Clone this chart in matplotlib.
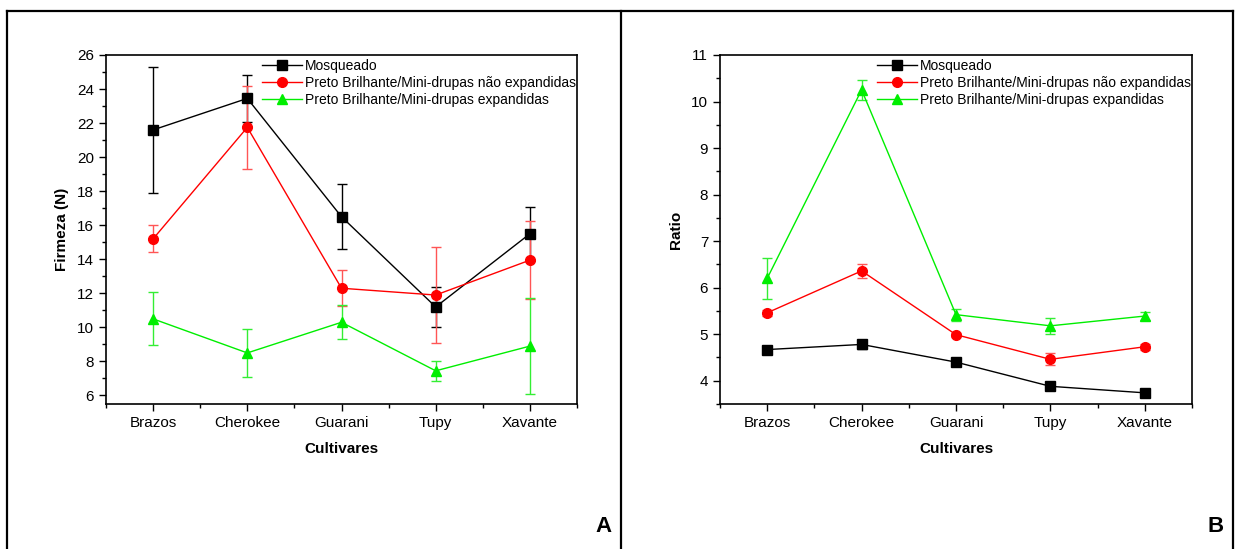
import matplotlib
matplotlib.use('Agg')
import matplotlib.pyplot as plt
from matplotlib.ticker import MultipleLocator
from matplotlib.lines import Line2D

plt.rcParams['font.family'] = ['Liberation Sans', 'DejaVu Sans']

# Data
cultivares = ['Brazos', 'Cherokee', 'Guarani', 'Tupy', 'Xavante']
series_names = ['Mosqueado',
                'Preto Brilhante/Mini-drupas não expandidas',
                'Preto Brilhante/Mini-drupas expandidas']

firmeza_mosq = [21.6, 23.45, 16.5, 11.2, 15.5]
firmeza_mosq_err = [3.7, 1.4, 1.9, 1.2, 1.6]
firmeza_nexp = [15.2, 21.75, 12.3, 11.9, 13.95]
firmeza_nexp_err = [0.8, 2.45, 1.05, 2.8, 2.3]
firmeza_exp = [10.5, 8.5, 10.3, 7.45, 8.9]
firmeza_exp_err = [1.55, 1.4, 1.0, 0.6, 2.8]

ratio_mosq = [4.67, 4.78, 4.40, 3.88, 3.74]
ratio_mosq_err = [0.05, 0.10, 0.03, 0.02, 0.02]
ratio_nexp = [5.46, 6.36, 4.99, 4.46, 4.73]
ratio_nexp_err = [0.06, 0.15, 0.04, 0.13, 0.07]
ratio_exp = [6.20, 10.25, 5.42, 5.18, 5.39]
ratio_exp_err = [0.44, 0.21, 0.13, 0.17, 0.08]

colors = ['black', 'red', '#00ee00']
err_colors = ['black', '#ff5555', '#33ee33']
markers = ['s', 'o', '^']
msizes = [6.5, 7, 7]

fig = plt.figure(figsize=(12.37, 5.49), dpi=100)

# outer frame lines (figure coords)
W, H = 1237.0, 549.0
def vline(x):
    fig.add_artist(Line2D([x / W, x / W], [0, 1 - 11 / H], color='black', lw=1.6,
                          transform=fig.transFigure))
fig.add_artist(Line2D([7 / W, 1233 / W], [1 - 11 / H, 1 - 11 / H], color='black', lw=1.6,
                      transform=fig.transFigure))
for xx in [7, 621, 1233]:
    vline(xx)


def panel(rect, data, errs, ylim, ymaj, ylabel, letter, letter_x):
    ax = fig.add_axes(rect)
    x = range(len(cultivares))
    handles = []
    for i in range(3):
        ax.errorbar(x, data[i], yerr=errs[i], color=colors[i], ecolor=err_colors[i],
                    marker=markers[i], markersize=msizes[i], lw=1.0, elinewidth=1.0,
                    capsize=3.5, capthick=1.0)
        handles.append(Line2D([], [], color=colors[i], marker=markers[i],
                              markersize=msizes[i], lw=1.0, label=series_names[i]))
    ax.set_xlim(-0.5, 4.5)
    ax.set_ylim(*ylim)
    ax.set_xticks(list(x))
    ax.set_xticklabels(cultivares)
    ax.xaxis.set_minor_locator(MultipleLocator(0.5))
    ax.yaxis.set_major_locator(MultipleLocator(ymaj))
    ax.yaxis.set_minor_locator(MultipleLocator(ymaj / 2))
    ax.tick_params(which='both', direction='out', top=False, right=False, labelsize=11)
    ax.tick_params(which='major', length=5, width=1)
    ax.tick_params(which='minor', length=3, width=1)
    for s in ax.spines.values():
        s.set_linewidth(1.2)
    ax.set_xlabel('Cultivares', fontsize=11, fontweight='bold', labelpad=9)
    ax.set_ylabel(ylabel, fontsize=11, fontweight='bold', labelpad=6)
    ax.legend(handles=handles, loc='upper right', bbox_to_anchor=(1.009, 1.004),
              frameon=False, fontsize=10, handlelength=2.9, handletextpad=0.2,
              labelspacing=0.22, borderaxespad=0.0)
    fig.text(letter_x / W, 1 - 527 / H, letter, fontsize=16, fontweight='bold',
             ha='center', va='center')
    return ax


# axes rects from pixel positions
def rect(l, r, t, b):
    return [l / W, 1 - b / H, (r - l) / W, (b - t) / H]

panel(rect(106, 577, 55, 404),
      [firmeza_mosq, firmeza_nexp, firmeza_exp],
      [firmeza_mosq_err, firmeza_nexp_err, firmeza_exp_err],
      (5.5, 26), 2, 'Firmeza (N)', 'A', 603)

panel(rect(720, 1192, 55, 404),
      [ratio_mosq, ratio_nexp, ratio_exp],
      [ratio_mosq_err, ratio_nexp_err, ratio_exp_err],
      (3.5, 11), 1, 'Ratio', 'B', 1216)

fig.savefig('out.png', dpi=100)
